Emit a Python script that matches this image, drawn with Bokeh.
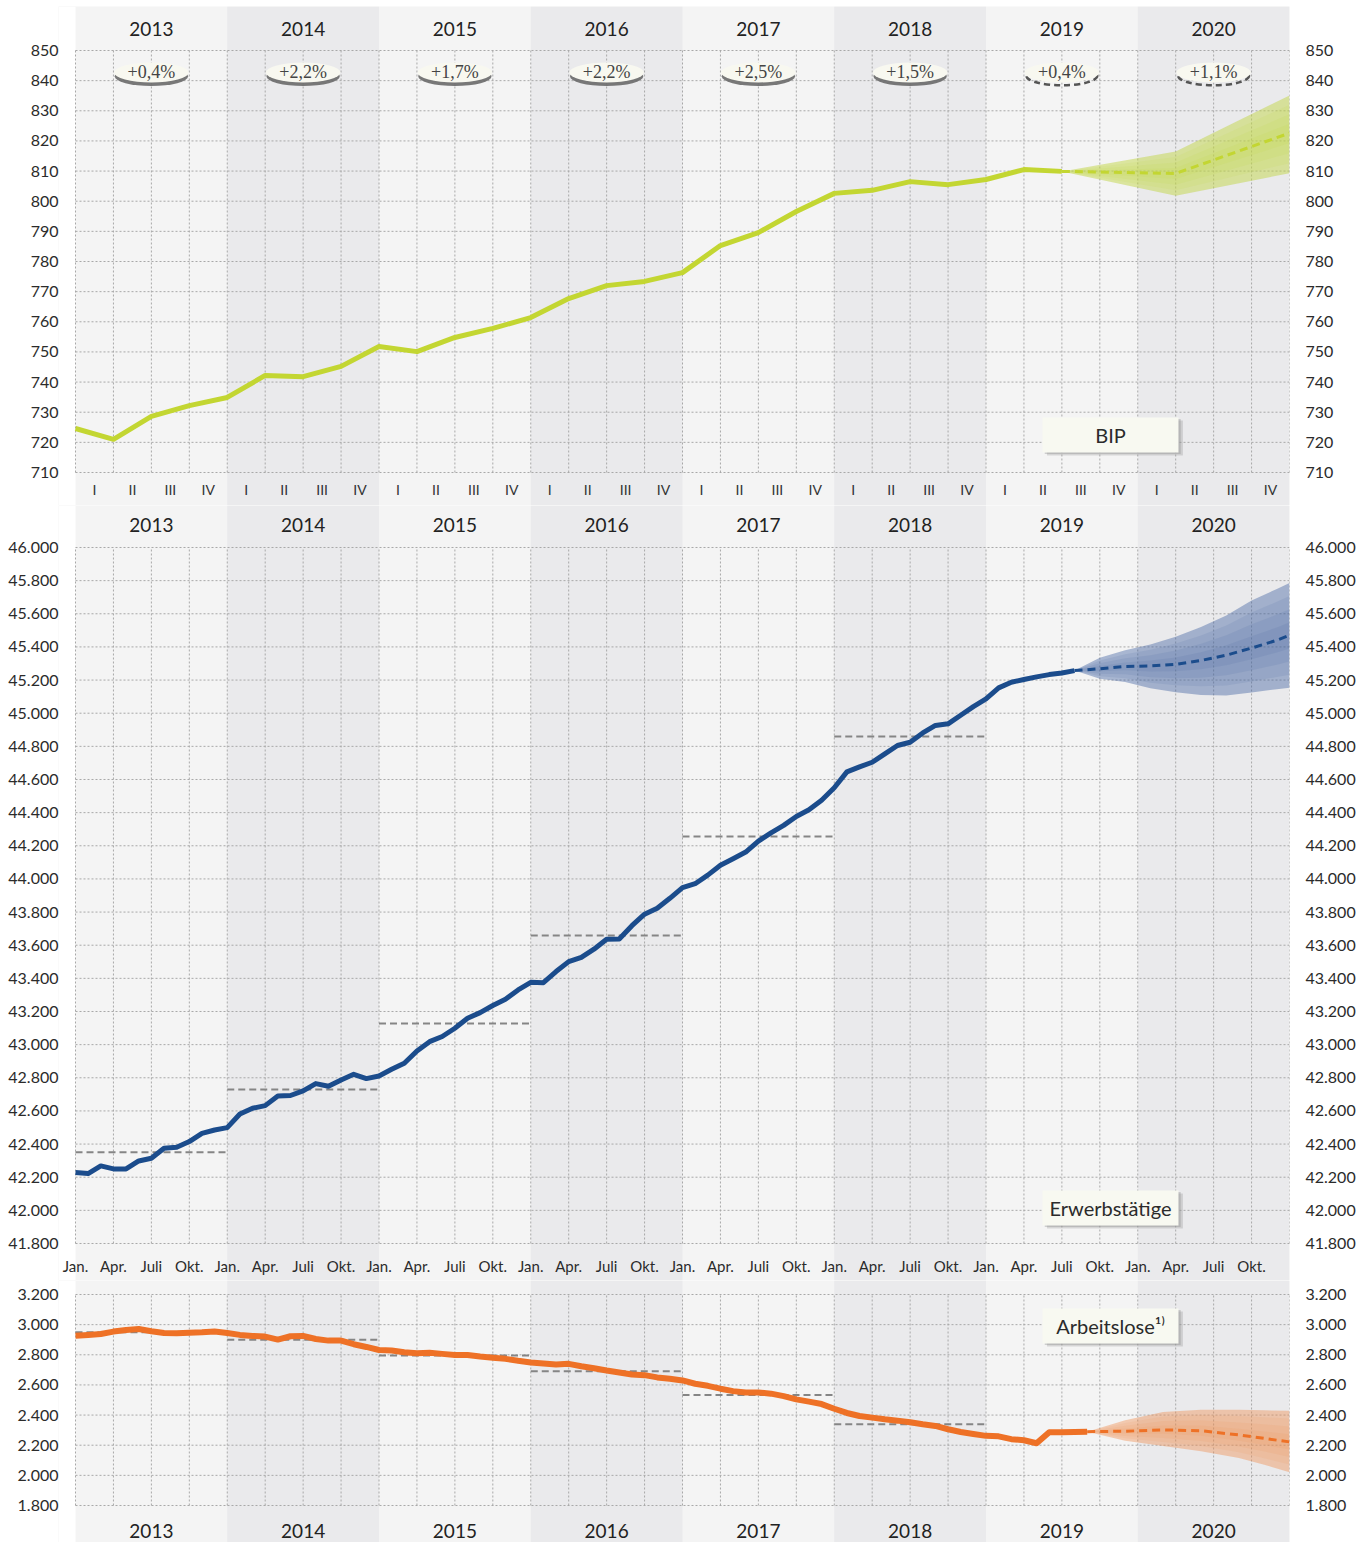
from bokeh.plotting import figure
from bokeh.layouts import column
from bokeh.models import Range1d, LinearAxis, FixedTicker, BoxAnnotation
from bokeh.core.properties import value
from bokeh.embed import file_html
from bokeh.resources import INLINE

# ---------------- data ----------------
years = ["2013", "2014", "2015", "2016", "2017", "2018", "2019", "2020"]
quarter_labels = ["I", "II", "III", "IV"]
month_labels = ["Jan.", "Apr.", "Juli", "Okt."]
growth_labels = ["+0,4%", "+2,2%", "+1,7%", "+2,2%", "+2,5%", "+1,5%", "+0,4%", "+1,1%"]
growth_is_forecast = [False, False, False, False, False, False, True, True]

# BIP, quarterly (index = quarter boundary since Jan 2013)
bip_actual = [724.6, 721.0, 728.6, 732.2, 734.9, 742.2, 741.8, 745.2, 751.8, 750.1,
              754.8, 757.8, 761.4, 767.7, 772.0, 773.4, 776.3, 785.3, 789.6, 796.6,
              802.6, 803.6, 806.5, 805.5, 807.2, 810.5, 809.9]
bip_fc_q = [26, 29, 32]
bip_fc = [809.9, 809.2, 822.6]
bip_fc_hi = [809.9, 816.5, 835.1]
bip_fc_lo = [809.9, 801.8, 809.3]

# Erwerbstätige, monthly (thousand), Jan 2013 = month 0
emp_actual = [42228, 42222, 42268, 42250, 42250, 42298, 42314, 42375, 42381, 42415, 42465, 42485,
              42499, 42581, 42616, 42632, 42690, 42693, 42721, 42765, 42749, 42787, 42821, 42795,
              42811, 42851, 42888, 42962, 43018, 43049, 43099, 43159, 43193, 43236, 43274, 43330,
              43376, 43374, 43441, 43501, 43527, 43576, 43636, 43638, 43718, 43787, 43823, 43883,
              43947, 43971, 44023, 44083, 44122, 44162, 44228, 44278, 44323, 44377, 44417, 44475,
              44550, 44646, 44676, 44704, 44755, 44805, 44825, 44881, 44926, 44936, 44988, 45040,
              45086, 45153, 45187, 45203, 45219, 45233, 45243, 45257]
emp_fc_m = [79, 81, 83, 85, 87, 89, 91, 93, 95, 96]
emp_fc = [45257, 45268, 45282, 45285, 45295, 45318, 45350, 45393, 45440, 45470]
emp_fc_hi = [45257, 45335, 45380, 45415, 45462, 45520, 45590, 45680, 45750, 45786]
emp_fc_lo = [45257, 45208, 45188, 45150, 45127, 45110, 45107, 45125, 45145, 45153]
emp_avg = [42350, 42729, 43128, 43659, 44256, 44859]

# Arbeitslose, monthly (thousand)
unemp_actual = [2927, 2932, 2938, 2954, 2965, 2971, 2956, 2945, 2943, 2947, 2949, 2954,
                2945, 2932, 2925, 2921, 2901, 2923, 2925, 2905, 2894, 2894, 2870, 2852,
                2832, 2828, 2817, 2810, 2813, 2806, 2799, 2799, 2788, 2780, 2773, 2760,
                2749, 2742, 2736, 2740, 2724, 2711, 2696, 2683, 2669, 2665, 2650, 2641,
                2630, 2608, 2594, 2575, 2559, 2550, 2550, 2542, 2526, 2504, 2489, 2473,
                2442, 2414, 2394, 2383, 2372, 2363, 2352, 2339, 2328, 2306, 2288, 2275,
                2262, 2259, 2240, 2233, 2213, 2286, 2286, 2288, 2290]
unemp_fc_m = [80, 83, 86, 89, 92, 94, 96]
unemp_fc = [2290, 2293, 2302, 2296, 2268, 2245, 2222]
unemp_fc_hi = [2290, 2365, 2420, 2435, 2435, 2432, 2428]
unemp_fc_lo = [2290, 2230, 2195, 2160, 2115, 2070, 2021]
unemp_avg = [2950, 2899, 2795, 2691, 2533, 2339]

bip_ticks = list(range(710, 851, 10))
emp_ticks = list(range(41800, 46001, 200))
unemp_ticks = list(range(1800, 3201, 200))

# ---------------- style ----------------
FONT = "Lato"
LIGHT = "#f4f4f4"
DARK = "#eaeaec"
GRID = "#a8a8a8"
W = 1362
BL, BR = 58, 73          # left border; the strip [BL, BL+EXTRA] is a white part of the frame
EXTRA = 17
PX_PER_MONTH = 1214 / 96
X0 = -EXTRA / PX_PER_MONTH
GREEN = "#c3d632"
BLUE = "#1b4c8c"
ORANGE = "#ee7126"


def fmt(v):
    return f"{v:,}".replace(",", ".")


def make_panel(height, y0, y1, ticks, grid_lo, grid_hi, top=0):
    p = figure(width=W, height=height, x_range=Range1d(X0, 96), y_range=Range1d(y0, y1),
               x_axis_type=None, y_axis_type=None, output_backend="svg",
               toolbar_location=None, min_border_left=BL, min_border_right=BR,
               min_border_top=top, min_border_bottom=0, background_fill_color=LIGHT,
               border_fill_color="white", outline_line_color=None)
    p.add_layout(BoxAnnotation(right=0, fill_color="white", fill_alpha=1,
                               line_color=None, level="image"))
    for i in range(1, 8, 2):
        p.add_layout(BoxAnnotation(left=i * 12, right=i * 12 + 12, fill_color=DARK,
                                   fill_alpha=1, line_color=None, level="image"))
    overrides = {t: fmt(t) for t in ticks}
    for side in ("left", "right"):
        ax = LinearAxis(ticker=FixedTicker(ticks=ticks), major_label_overrides=overrides)
        ax.axis_line_color = None
        ax.major_tick_line_color = None
        ax.minor_tick_line_color = None
        ax.major_tick_in = 0
        ax.major_tick_out = 0
        ax.major_label_standoff = 0 if side == "left" else 16
        ax.major_label_text_font = FONT
        ax.major_label_text_font_size = "16px"
        ax.major_label_text_color = "#2b2b2b"
        p.add_layout(ax, side)
    n = len(ticks)
    p.segment(x0=[0] * n, y0=ticks, x1=[96] * n, y1=ticks,
              line_color=GRID, line_dash="2 2", line_width=1)
    xs = [3 * k for k in range(33)]
    p.segment(x0=xs, y0=[grid_lo] * 33, x1=xs, y1=[grid_hi] * 33,
              line_color=GRID, line_dash="2 2", line_width=1)
    return p


def year_labels(p, yv):
    p.text(x=[i * 12 + 6 for i in range(8)], y=[yv] * 8, text=years, text_align="center",
           text_baseline="middle", text_font=value(FONT), text_font_size="19px",
           text_color="#222222")


def label_box(p, x0, x1, y0, y1, txt, dx, dy):
    p.quad(left=[x0 + dx], right=[x1 + dx], bottom=[y0 - dy], top=[y1 - dy],
           fill_color="#9a9a9a", fill_alpha=0.35, line_color=None)
    p.quad(left=[x0 + dx / 2], right=[x1 + dx / 2], bottom=[y0 - dy / 2], top=[y1 - dy / 2],
           fill_color="#8a8a8a", fill_alpha=0.35, line_color=None)
    p.quad(left=[x0], right=[x1], bottom=[y0], top=[y1], fill_color="#f8f9f1",
           line_color=None)
    p.text(x=[(x0 + x1) / 2], y=[(y0 + y1) / 2], text=[txt], text_align="center",
           text_baseline="middle", text_font=value(FONT), text_font_size="20px",
           text_color="#2b2b2b")


def forecast_band(p, xs, lo, hi, mid, color, alphas):
    fracs = [1.0, 0.75, 0.5, 0.25]
    for f, a in zip(fracs, alphas):
        ilo = [m - f * (m - l) for m, l in zip(mid, lo)]
        ihi = [m + f * (h - m) for m, h in zip(mid, hi)]
        p.varea(x=xs, y1=ilo, y2=ihi, fill_color=color, fill_alpha=a)


# px per unit: panel 1 = 3.0143, panel 2 = 0.165714, panel 3 = 0.150714
# ---------------- panel 1: BIP ----------------
p1 = make_panel(505, 699.05, 864.60, bip_ticks, 710, 850, top=6)
year_labels(p1, 856.97)
p1.text(x=[k * 3 + 1.5 for k in range(32)], y=[704.4] * 32,
        text=[quarter_labels[k % 4] for k in range(32)], text_align="center",
        text_baseline="middle", text_font=value(FONT), text_font_size="14px",
        text_color="#333333")

forecast_band(p1, [q * 3 for q in bip_fc_q], bip_fc_lo, bip_fc_hi, bip_fc, "#c2d648",
              [0.5, 0.13, 0.13, 0.13])
p1.line(x=[q * 3 for q in range(len(bip_actual))], y=bip_actual, line_color=GREEN,
        line_width=5, line_join="round")
p1.line(x=[q * 3 for q in bip_fc_q], y=bip_fc, line_color=GREEN, line_width=3,
        line_dash="8 5")

# growth ellipses
gx = [i * 12 + 6 for i in range(8)]
solid_x = [x for x, f in zip(gx, growth_is_forecast) if not f]
dash_x = [x for x, f in zip(gx, growth_is_forecast) if f]
p1.ellipse(x=solid_x, y=[841.5] * len(solid_x), width=5.8, height=6.6,
           fill_color="#6a6a6a", fill_alpha=0.9, line_color=None)
p1.ellipse(x=dash_x, y=[841.6] * len(dash_x), width=5.6, height=6.3,
           fill_color=None, line_color="#555555", line_width=2.5, line_dash="6 4")
p1.ellipse(x=gx, y=[842.7] * 8, width=5.9, height=6.6, fill_color="#f8f8f0",
           line_color=None)
p1.text(x=gx, y=[842.8] * 8, text=growth_labels, text_align="center",
        text_baseline="middle", text_font=value("Liberation Serif"),
        text_font_size="18px", text_color="#444444")

label_box(p1, 76.47, 87.22, 716.6, 728.25, "BIP", 0.35, 1.0)

# ---------------- panel 2: Erwerbstätige ----------------
p2 = make_panel(775, 41576.7, 46253.4, emp_ticks, 41800, 46000)
year_labels(p2, 46132.8)
p2.text(x=[k * 3 for k in range(32)], y=[41661.2] * 32,
        text=[month_labels[k % 4] for k in range(32)], text_align="center",
        text_baseline="middle", text_font=value(FONT), text_font_size="15px",
        text_color="#2b2b2b")
p2.segment(x0=[i * 12 for i in range(6)], x1=[i * 12 + 12 for i in range(6)], y0=emp_avg,
           y1=emp_avg, line_color="#858585", line_width=2, line_dash="7 4")
forecast_band(p2, emp_fc_m, emp_fc_lo, emp_fc_hi, emp_fc, "#3e5f9f",
              [0.42, 0.12, 0.12, 0.12])
p2.line(x=list(range(len(emp_actual))), y=emp_actual, line_color=BLUE, line_width=5,
        line_join="round")
p2.line(x=emp_fc_m, y=emp_fc, line_color=BLUE, line_width=3, line_dash="8 5")
label_box(p2, 76.47, 87.22, 41908.6, 42119.8, "Erwerbstätige", 0.35, 18)

# ---------------- panel 3: Arbeitslose ----------------
p3 = make_panel(262, 1554.5, 3292.9, unemp_ticks, 1800, 3200)
year_labels(p3, 1634.1)
p3.segment(x0=[i * 12 for i in range(6)], x1=[i * 12 + 12 for i in range(6)], y0=unemp_avg,
           y1=unemp_avg, line_color="#858585", line_width=2, line_dash="7 4")
forecast_band(p3, unemp_fc_m, unemp_fc_lo, unemp_fc_hi, unemp_fc, "#f08a48",
              [0.4, 0.1, 0.1, 0.1])
p3.line(x=list(range(len(unemp_actual))), y=unemp_actual, line_color=ORANGE, line_width=6,
        line_join="round")
p3.line(x=unemp_fc_m, y=unemp_fc, line_color=ORANGE, line_width=3, line_dash="8 5")
label_box(p3, 76.47, 87.22, 2874.9, 3107.1, "Arbeitslose\u00b9\u207e", 0.35, 20)

layout = column(p1, p2, p3, spacing=0)
open("out.html", "w").write(file_html(layout, INLINE))
